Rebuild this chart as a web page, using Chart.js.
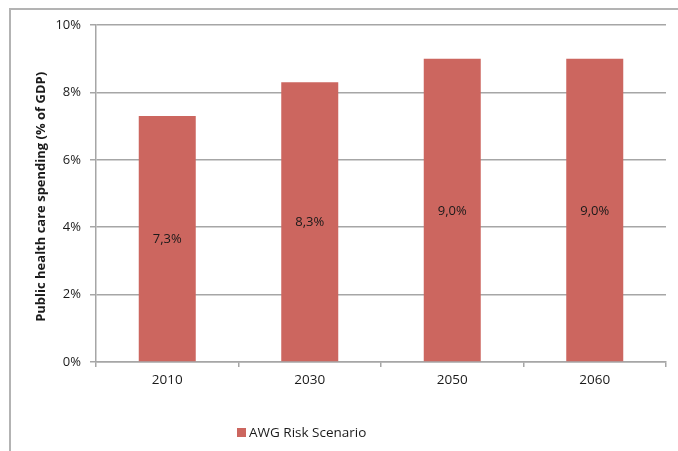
<!DOCTYPE html>
<html>
<head>
<meta charset="utf-8">
<script src="https://cdn.jsdelivr.net/npm/chart.js@4.4.1/dist/chart.umd.min.js"></script>
<style>
  body { margin: 0; background: #fff; overflow: hidden; }
  #marco {
    position: absolute; left: 9px; top: 8px;
    width: 900px; height: 700px;
    border-left: 2px solid #b3b3b3; border-top: 2px solid #b3b3b3;
  }
  #grafico { position: absolute; left: 0; top: 0; }
</style>
</head>
<body>
<div id="marco"></div>
<canvas id="grafico" width="678" height="451"></canvas>
<script>
// Datos del gráfico
const anios = ["2010", "2030", "2050", "2060"];
const gasto = [7.3, 8.3, 9.0, 9.0];
const serie = "AWG Risk Scenario";
const tituloY = "Public health care spending (% of GDP)";

const fuente = "'Open Sans', 'Liberation Sans', sans-serif";
const colorBarra = "#cc665f";

// Etiquetas de valor dentro de cada barra (formato con coma)
const etiquetasValor = {
  id: "etiquetasValor",
  afterDatasetsDraw(chart) {
    const ctx = chart.ctx;
    const meta = chart.getDatasetMeta(0);
    ctx.save();
    ctx.font = "13px " + fuente;
    ctx.fillStyle = "#1a1a1a";
    ctx.textAlign = "center";
    ctx.textBaseline = "middle";
    meta.data.forEach(function (barra, i) {
      const texto = gasto[i].toFixed(1).replace(".", ",") + "%";
      ctx.fillText(texto, barra.x, (barra.y + barra.base) / 2 + 1);
    });
    ctx.restore();
  },
};

// Leyenda dibujada a mano para ubicarla como en el original
const leyenda = {
  id: "leyenda",
  afterDraw(chart) {
    const ctx = chart.ctx;
    const x = chart.chartArea.left + 141;
    const y = 432;
    ctx.save();
    ctx.fillStyle = colorBarra;
    ctx.fillRect(x, y - 4, 9, 9);
    ctx.font = "13.5px " + fuente;
    ctx.fillStyle = "#1a1a1a";
    ctx.textBaseline = "middle";
    ctx.fillText(serie, x + 12, y + 1);
    ctx.restore();
  },
};

const ctx = document.getElementById("grafico").getContext("2d");
new Chart(ctx, {
  type: "bar",
  data: {
    labels: anios,
    datasets: [
      {
        label: serie,
        data: gasto,
        backgroundColor: colorBarra,
        borderWidth: 0,
        barPercentage: 0.4,
        categoryPercentage: 1.0,
      },
    ],
  },
  options: {
    responsive: false,
    animation: false,
    layout: { padding: { left: 0, right: 12, top: 25, bottom: 0 } },
    plugins: {
      legend: { display: false },
      tooltip: { enabled: false },
    },
    scales: {
      x: {
        afterFit: function (scale) { scale.height = 89; },
        grid: {
          offset: true,
          drawOnChartArea: false,
          drawTicks: true,
          tickLength: 5,
          color: "#a6a6a6",
          lineWidth: 1.5,
        },
        border: { color: "#a6a6a6", width: 1.5 },
        ticks: {
          color: "#1a1a1a",
          font: { family: fuente, size: 13.5 },
          padding: 5,
        },
      },
      y: {
        min: 0,
        max: 10,
        afterFit: function (scale) { scale.width = 96; },
        grid: {
          color: "#a6a6a6",
          lineWidth: 1.5,
          tickLength: 6,
        },
        border: { color: "#a6a6a6", width: 1.5 },
        ticks: {
          stepSize: 2,
          color: "#1a1a1a",
          font: { family: fuente, size: 13 },
          padding: 9,
          callback: function (v) { return v + "%"; },
        },
        title: {
          display: true,
          text: tituloY + "  ",
          color: "#1a1a1a",
          font: { family: fuente, size: 13, weight: "bold" },
          padding: { top: 33, bottom: 0 },
        },
      },
    },
  },
  plugins: [etiquetasValor, leyenda],
});
</script>
</body>
</html>
